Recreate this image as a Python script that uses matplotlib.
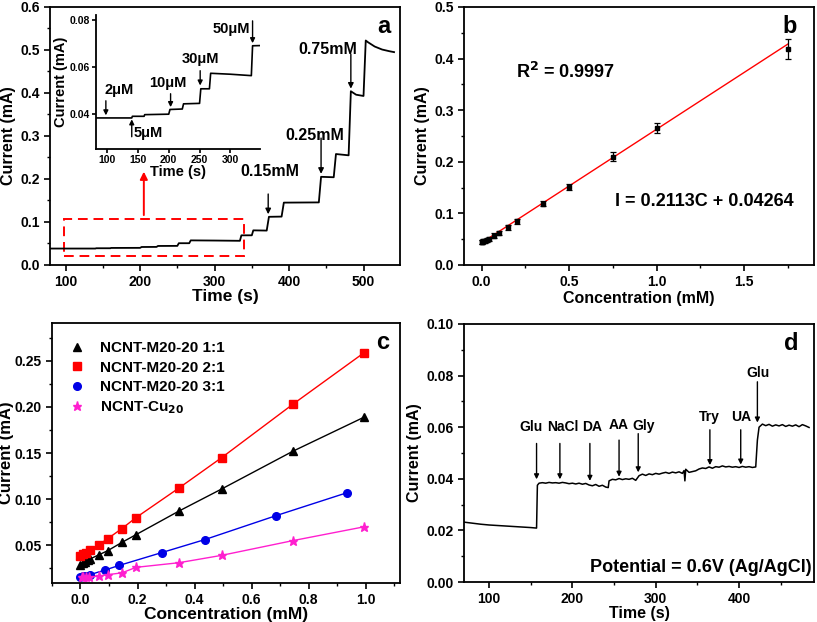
import numpy as np
import matplotlib
matplotlib.use("Agg")
import matplotlib.pyplot as plt
from matplotlib.patches import Rectangle
from matplotlib.ticker import MultipleLocator, FormatStrFormatter, FixedLocator

plt.rcParams['font.family'] = ['Liberation Sans', 'DejaVu Sans']
plt.rcParams['font.weight'] = 'bold'
plt.rcParams['axes.labelweight'] = 'bold'
plt.rcParams['axes.linewidth'] = 1.3
plt.rcParams['xtick.major.width'] = 1.2
plt.rcParams['ytick.major.width'] = 1.2
plt.rcParams['xtick.minor.width'] = 1.0
plt.rcParams['ytick.minor.width'] = 1.0
plt.rcParams['xtick.major.size'] = 4
plt.rcParams['ytick.major.size'] = 4
plt.rcParams['xtick.minor.size'] = 2.5
plt.rcParams['ytick.minor.size'] = 2.5

# ---- panel a: amperometric response (time s, current mA)
a_time = [80, 140, 141, 160, 161, 200, 202, 222, 224, 250, 252, 266, 268, 300, 334,
          336, 350, 352, 370, 373, 390, 393, 440, 443, 460, 463, 480, 483, 490, 500,
          503, 506, 515, 525, 535, 541]
a_curr = [0.0382, 0.0382, 0.0389, 0.0389, 0.0396, 0.0398, 0.0418, 0.0420, 0.0442, 0.0444,
          0.0506, 0.0506, 0.0572, 0.0568, 0.0562, 0.0689, 0.0690, 0.0805, 0.0800, 0.1120,
          0.1125, 0.1450, 0.1455, 0.2050, 0.2040, 0.2580, 0.2550, 0.4040, 0.3960, 0.3930,
          0.5220, 0.5180, 0.5080, 0.5010, 0.4970, 0.4950]
a_labels = ['0.15mM', '0.25mM', '0.75mM']
a_arrow_x = [372, 443, 483]
inset_labels = ['2μM', '5μM', '10μM', '30μM', '50μM']
inset_arrow_x = [98, 140, 203, 251, 336]
inset_ticks = [100, 150, 200, 250, 300]

# ---- panel b: calibration
b_conc = [0.002, 0.005, 0.01, 0.02, 0.03, 0.04, 0.07, 0.1, 0.15, 0.2, 0.35, 0.5, 0.75, 1.0, 1.75]
b_curr = [0.044, 0.045, 0.046, 0.047, 0.049, 0.051, 0.057, 0.062, 0.073, 0.085, 0.119,
          0.151, 0.210, 0.266, 0.419]
b_err = [0.004, 0.004, 0.004, 0.004, 0.004, 0.004, 0.004, 0.004, 0.005, 0.005, 0.005,
         0.006, 0.009, 0.010, 0.019]
b_fit_x = [0.0, 1.75]
b_fit_y = [0.043, 0.428]

# ---- panel c: different catalysts
c_conc_1 = [0.0, 0.008, 0.015, 0.025, 0.033, 0.064, 0.095, 0.145, 0.195, 0.345, 0.495, 0.745, 0.995]
c_curr_1 = [0.029, 0.031, 0.032, 0.0335, 0.035, 0.0395, 0.044, 0.053, 0.0615, 0.087, 0.111, 0.152, 0.189]
c_conc_2 = [0.0, 0.008, 0.02, 0.033, 0.064, 0.095, 0.145, 0.195, 0.345, 0.495, 0.745, 0.995]
c_curr_2 = [0.0385, 0.040, 0.042, 0.0445, 0.0505, 0.057, 0.068, 0.080, 0.112, 0.145, 0.203, 0.259]
c_conc_3 = [0.0, 0.01, 0.02, 0.033, 0.085, 0.135, 0.285, 0.435, 0.685, 0.935]
c_curr_3 = [0.016, 0.0165, 0.017, 0.018, 0.023, 0.028, 0.042, 0.056, 0.082, 0.107]
c_conc_4 = [0.005, 0.01, 0.02, 0.03, 0.065, 0.095, 0.145, 0.195, 0.345, 0.495, 0.745, 0.995]
c_curr_4 = [0.016, 0.0155, 0.015, 0.0155, 0.0165, 0.018, 0.020, 0.026, 0.031, 0.039, 0.055, 0.070]
c_names = ['NCNT-M20-20 1:1', 'NCNT-M20-20 2:1', 'NCNT-M20-20 3:1', 'NCNT-Cu$_{20}$']

# ---- panel d: interference test
d_time = [70, 80, 90, 100, 110, 120, 130, 140, 150, 157, 158, 160, 164, 168, 172, 176, 180,
          184, 188, 192, 196, 200, 204, 208, 212, 216, 220, 224, 228, 232, 236, 240, 243,
          244, 248, 252, 256, 260, 264, 268, 272, 276, 280, 284, 288, 292, 296, 300, 304,
          308, 312, 316, 320, 324, 328, 332, 334, 335, 336, 340, 344, 348, 352, 356, 360,
          364, 368, 372, 376, 380, 384, 388, 392, 396, 400, 404, 408, 412, 416, 420, 422,
          424, 428, 432, 436, 440, 444, 448, 452, 456, 460, 464, 468, 472, 476, 480, 484]
d_curr = [0.0232, 0.0228, 0.0224, 0.0221, 0.0219, 0.0217, 0.0215, 0.0213, 0.0211, 0.0209,
          0.0375, 0.0383, 0.0385, 0.0383, 0.0386, 0.0384, 0.0385, 0.0383, 0.0386, 0.0384,
          0.0381, 0.0383, 0.0380, 0.0383, 0.0379, 0.0382, 0.0376, 0.0373, 0.0378, 0.0371,
          0.0375, 0.0368, 0.0366, 0.0392, 0.0398, 0.0396, 0.0401, 0.0397, 0.0400, 0.0398,
          0.0402, 0.0394, 0.0412, 0.0418, 0.0413, 0.0419, 0.0416, 0.0421, 0.0418, 0.0422,
          0.0425, 0.0421, 0.0426, 0.0423, 0.0427, 0.0421, 0.0432, 0.0392, 0.0437, 0.0425,
          0.0428, 0.0431, 0.0438, 0.0442, 0.0440, 0.0446, 0.0441, 0.0447, 0.0445, 0.0450,
          0.0446, 0.0448, 0.0445, 0.0447, 0.0444, 0.0448, 0.0445, 0.0447, 0.0444, 0.0446,
          0.0550, 0.0600, 0.0612, 0.0606, 0.0611, 0.0604, 0.0609, 0.0605, 0.0610, 0.0603,
          0.0608, 0.0604, 0.0609, 0.0602, 0.0610, 0.0605, 0.0599]
d_labels = ['Glu', 'NaCl', 'DA', 'AA', 'Gly', 'Try', 'UA', 'Glu']
d_arrow_x = [157, 185, 221, 256, 279, 365, 402, 422]


def style(ax):
    ax.tick_params(which='both', direction='out', top=False, right=False, labelsize=10)
    for lab in ax.get_xticklabels() + ax.get_yticklabels():
        lab.set_fontweight('bold')


def arrow(ax, x, y0, y1, color='k', lw=1.0, ms=8):
    ax.annotate('', xy=(x, y1), xytext=(x, y0),
                arrowprops=dict(arrowstyle='-|>', color=color, lw=lw,
                                mutation_scale=ms, shrinkA=0, shrinkB=0))


fig = plt.figure(figsize=(8.17, 6.22), dpi=100)

# ================= a
ax = fig.add_axes([0.0612, 0.574, 0.4284, 0.4148])
ax.plot(a_time, a_curr, color='k', lw=1.3)
ax.set_xlim(79, 549)
ax.set_ylim(0, 0.6)
ax.xaxis.set_major_locator(MultipleLocator(100))
ax.xaxis.set_minor_locator(MultipleLocator(50))
ax.yaxis.set_major_locator(MultipleLocator(0.1))
ax.yaxis.set_minor_locator(MultipleLocator(0.05))
ax.yaxis.set_major_formatter(FormatStrFormatter('%.1f'))
ax.set_xlabel('Time (s)', fontsize=12.5, labelpad=0)
ax.set_ylabel('Current (mA)', fontsize=11.5, labelpad=3)
style(ax)
a_tail = [0.165, 0.295, 0.49]
a_tip = [0.118, 0.212, 0.41]
a_text = [(374, 0.217), (435, 0.302), (452, 0.50)]
for lab, x, y0, y1, (tx, ty) in zip(a_labels, a_arrow_x, a_tail, a_tip, a_text):
    arrow(ax, x, y0, y1)
    ax.text(tx, ty, lab, fontsize=11.5, ha='center', va='center')
ax.text(527, 0.555, 'a', fontsize=17, ha='center', va='center')
ax.add_patch(Rectangle((98, 0.021), 241, 0.087, fill=False, ec='red', lw=1.4, ls=(0, (5, 3))))
arrow(ax, 205, 0.116, 0.217, color='red', lw=1.4, ms=11)

# inset
ins = fig.add_axes([0.1175, 0.7605, 0.2007, 0.2154])
ins.plot(a_time, a_curr, color='k', lw=1.2)
ins.set_xlim(82, 348)
ins.set_ylim(0.025, 0.082)
ins.spines['top'].set_visible(False)
ins.spines['right'].set_visible(False)
ins.xaxis.set_major_locator(FixedLocator(inset_ticks))
ins.yaxis.set_major_locator(MultipleLocator(0.02))
ins.yaxis.set_major_formatter(FormatStrFormatter('%.2f'))
ins.tick_params(direction='out', length=3, labelsize=7.5, pad=1.5)
for lab in ins.get_xticklabels() + ins.get_yticklabels():
    lab.set_fontweight('bold')
ins.set_xlabel('Time (s)', fontsize=10.5, labelpad=0)
ins.set_ylabel('Current (mA)', fontsize=10.5, labelpad=1)
i_tail = [0.0455, 0.0302, 0.0485, 0.0583, 0.0795]
i_tip = [0.0393, 0.0376, 0.0428, 0.0520, 0.0700]
i_text = [(119, 0.0499), (166, 0.0316), (199, 0.0531), (251, 0.0633), (301, 0.0761)]
for lab, x, y0, y1, (tx, ty) in zip(inset_labels, inset_arrow_x, i_tail, i_tip, i_text):
    arrow(ax=ins, x=x, y0=y0, y1=y1, ms=7)
    ins.text(tx, ty, lab, fontsize=10.5, ha='center', va='center')

# ================= b
ax = fig.add_axes([0.568, 0.574, 0.4284, 0.4148])
ax.plot(b_fit_x, b_fit_y, color='red', lw=1.0)
ax.errorbar(b_conc, b_curr, yerr=b_err, fmt='s', color='k', ms=2.2, capsize=2.2,
            elinewidth=0.9, capthick=0.9)
ax.set_xlim(-0.1, 1.9)
ax.set_ylim(0, 0.5)
ax.xaxis.set_major_locator(MultipleLocator(0.5))
ax.xaxis.set_minor_locator(MultipleLocator(0.25))
ax.yaxis.set_major_locator(MultipleLocator(0.1))
ax.yaxis.set_minor_locator(MultipleLocator(0.05))
ax.xaxis.set_major_formatter(FormatStrFormatter('%.1f'))
ax.yaxis.set_major_formatter(FormatStrFormatter('%.1f'))
ax.set_xlabel('Concentration (mM)', fontsize=11.5, labelpad=1)
ax.set_ylabel('Current (mA)', fontsize=11.5, labelpad=3)
style(ax)
ax.text(0.483, 0.375, 'R$^\\mathbf{2}$ = 0.9997', fontsize=13, ha='center', va='center')
ax.text(1.275, 0.123, 'I = 0.2113C + 0.04264', fontsize=13, ha='center', va='center')
ax.text(1.76, 0.462, 'b', fontsize=17, ha='center', va='center')

# ================= c
ax = fig.add_axes([0.0636, 0.0627, 0.426, 0.418])
c_sets = [(c_conc_1, c_curr_1, '^', 'black'), (c_conc_2, c_curr_2, 's', '#ff0000'),
          (c_conc_3, c_curr_3, 'o', '#0000e6'), (c_conc_4, c_curr_4, '*', '#ff1fcf')]
handles = []
for (cx, cy, mk, col), name in zip(c_sets, c_names):
    ax.plot(cx, cy, color=col, lw=1.0)
    h, = ax.plot(cx, cy, ls='none', marker=mk, color=col, ms=6.5 if mk == '*' else 5.5,
                 label=name)
    handles.append(h)
ax.legend(handles=handles, loc='upper left', bbox_to_anchor=(0.02, 0.965), frameon=False,
          prop={'weight': 'bold', 'size': 11}, handletextpad=0.9, labelspacing=0.35,
          handlelength=1.2, borderaxespad=0.2)
ax.set_xlim(-0.1, 1.12)
ax.set_ylim(0.009, 0.291)
ax.xaxis.set_major_locator(MultipleLocator(0.2))
ax.xaxis.set_minor_locator(MultipleLocator(0.1))
ax.yaxis.set_major_locator(MultipleLocator(0.05))
ax.yaxis.set_minor_locator(MultipleLocator(0.025))
ax.xaxis.set_major_formatter(FormatStrFormatter('%.1f'))
ax.yaxis.set_major_formatter(FormatStrFormatter('%.2f'))
ax.set_xlabel('Concentration (mM)', fontsize=12.5, labelpad=0)
ax.set_ylabel('Current (mA)', fontsize=12, labelpad=0)
style(ax)
ax.text(1.06, 0.27, 'c', fontsize=17, ha='center', va='center')

# ================= d
ax = fig.add_axes([0.568, 0.0643, 0.4284, 0.4148])
ax.plot(d_time, d_curr, color='k', lw=1.1)
ax.set_xlim(70, 490)
ax.set_ylim(0, 0.1)
ax.xaxis.set_major_locator(MultipleLocator(100))
ax.xaxis.set_minor_locator(MultipleLocator(50))
ax.yaxis.set_major_locator(MultipleLocator(0.02))
ax.yaxis.set_minor_locator(MultipleLocator(0.01))
ax.yaxis.set_major_formatter(FormatStrFormatter('%.2f'))
ax.set_xlabel('Time (s)', fontsize=11.5, labelpad=0)
ax.set_ylabel('Current (mA)', fontsize=11.5, labelpad=3)
style(ax)
d_tail = [0.0537, 0.0537, 0.0537, 0.055, 0.0575, 0.059, 0.059, 0.0776]
d_tip = [0.0398, 0.0398, 0.0392, 0.0408, 0.0425, 0.0453, 0.0455, 0.0618]
d_text = [(150, 0.0602), (189, 0.0602), (224, 0.0602), (255, 0.0608), (285, 0.0605),
          (364, 0.0638), (403, 0.0638), (423, 0.081)]
for lab, x, y0, y1, (tx, ty) in zip(d_labels, d_arrow_x, d_tail, d_tip, d_text):
    arrow(ax, x, y0, y1, ms=7)
    ax.text(tx, ty, lab, fontsize=10, ha='center', va='center')
ax.text(487, 0.0058, 'Potential = 0.6V (Ag/AgCl)', fontsize=13, ha='right', va='center')
ax.text(463, 0.0925, 'd', fontsize=17, ha='center', va='center')

fig.savefig('out.png', dpi=100)
